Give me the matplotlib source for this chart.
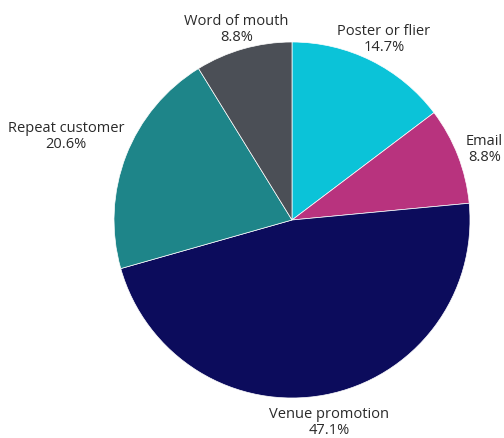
import numpy as np
import matplotlib
matplotlib.use("Agg")
import matplotlib.pyplot as plt

categories = ["Poster or flier", "Email", "Venue promotion", "Repeat customer", "Word of mouth"]
values = [14.7, 8.8, 47.1, 20.6, 8.8]
colors = ["#0BC3D8", "#B8337E", "#0C0C5C", "#1E8589", "#4B4F56"]
label_dist = [1.16, 1.16, 1.13, 1.36, 1.14]

plt.rcParams['font.family'] = ['Open Sans', 'DejaVu Sans']

fig = plt.figure(figsize=(5.04, 4.39), dpi=100)
ax = fig.add_axes([114/504, 40/439, 356/504, 356/439])
wedges, _ = ax.pie(values, colors=colors, startangle=90, counterclock=False,
                   radius=1.0, wedgeprops=dict(edgecolor="white", linewidth=0.5))
for w, cat, v, d in zip(wedges, categories, values, label_dist):
    ang = np.deg2rad((w.theta1 + w.theta2) / 2)
    x, y = d * np.cos(ang), d * np.sin(ang) - 0.02
    ax.text(x, y, f"{cat}\n{v:.1f}%", ha="center", va="center",
            fontsize=10.5, color="#2a2a2a", linespacing=1.1)
ax.set_xlim(-1, 1)
ax.set_ylim(-1, 1)
ax.set_aspect("equal")
ax.axis("off")
fig.savefig("out.png", dpi=100)
